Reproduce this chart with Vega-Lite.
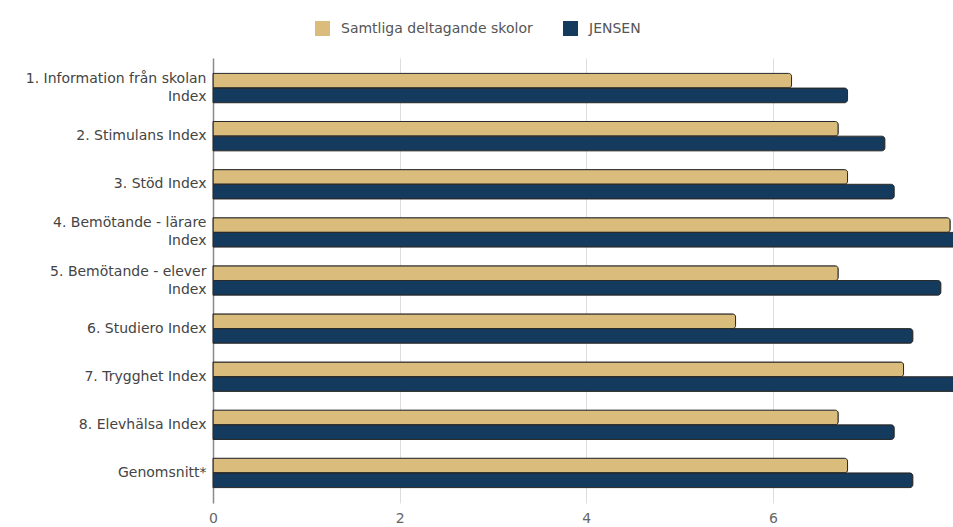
{
  "$schema": "https://vega.github.io/schema/vega-lite/v6.json",
  "autosize": "none",
  "width": 740,
  "height": 445,
  "padding": {"left": 213, "top": 58, "right": 0, "bottom": 24},
  "background": "white",
  "data": {
    "values": [
      {"kategori": "1. Information från skolan|Index", "serie": "Samtliga deltagande skolor", "varde": 6.2},
      {"kategori": "1. Information från skolan|Index", "serie": "JENSEN", "varde": 6.8},
      {"kategori": "2. Stimulans Index", "serie": "Samtliga deltagande skolor", "varde": 6.7},
      {"kategori": "2. Stimulans Index", "serie": "JENSEN", "varde": 7.2},
      {"kategori": "3. Stöd Index", "serie": "Samtliga deltagande skolor", "varde": 6.8},
      {"kategori": "3. Stöd Index", "serie": "JENSEN", "varde": 7.3},
      {"kategori": "4. Bemötande - lärare|Index", "serie": "Samtliga deltagande skolor", "varde": 7.9},
      {"kategori": "4. Bemötande - lärare|Index", "serie": "JENSEN", "varde": 8.0},
      {"kategori": "5. Bemötande - elever|Index", "serie": "Samtliga deltagande skolor", "varde": 6.7},
      {"kategori": "5. Bemötande - elever|Index", "serie": "JENSEN", "varde": 7.8},
      {"kategori": "6. Studiero Index", "serie": "Samtliga deltagande skolor", "varde": 5.6},
      {"kategori": "6. Studiero Index", "serie": "JENSEN", "varde": 7.5},
      {"kategori": "7. Trygghet Index", "serie": "Samtliga deltagande skolor", "varde": 7.4},
      {"kategori": "7. Trygghet Index", "serie": "JENSEN", "varde": 8.0},
      {"kategori": "8. Elevhälsa Index", "serie": "Samtliga deltagande skolor", "varde": 6.7},
      {"kategori": "8. Elevhälsa Index", "serie": "JENSEN", "varde": 7.3},
      {"kategori": "Genomsnitt*", "serie": "Samtliga deltagande skolor", "varde": 6.8},
      {"kategori": "Genomsnitt*", "serie": "JENSEN", "varde": 7.5}
    ]
  },
  "mark": {
    "type": "bar",
    "stroke": "#2a2a2a",
    "strokeWidth": 1,
    "cornerRadiusEnd": 3
  },
  "encoding": {
    "y": {
      "field": "kategori",
      "type": "nominal",
      "sort": null,
      "title": null,
      "scale": {"paddingInner": 0.39, "paddingOuter": 0.32},
      "axis": {
        "domain": true,
        "domainColor": "#8a8a8a",
        "domainWidth": 1.5,
        "ticks": false,
        "grid": false,
        "labelExpr": "split(datum.label, '|')",
        "labelOffset": {"condition": {"test": "indexof(datum.value, '|') >= 0", "value": -9}, "value": 0},
        "labelFont": "DejaVu Sans",
        "labelFontSize": 14,
        "labelColor": "#444444",
        "labelPadding": 7,
        "labelLineHeight": 18,
        "labelLimit": 220
      }
    },
    "yOffset": {
      "field": "serie",
      "type": "nominal",
      "sort": ["Samtliga deltagande skolor", "JENSEN"],
      "scale": {"paddingInner": 0, "paddingOuter": 0}
    },
    "x": {
      "field": "varde",
      "type": "quantitative",
      "title": null,
      "scale": {"domain": [0, 7.93], "nice": false, "zero": true},
      "axis": {
        "values": [0, 2, 4, 6],
        "domain": false,
        "ticks": false,
        "grid": true,
        "gridColor": "#dddddd",
        "gridWidth": 1,
        "labelFont": "DejaVu Sans",
        "labelFontSize": 14,
        "labelColor": "#666666",
        "labelPadding": 8,
        "labelFlush": false
      }
    },
    "color": {
      "field": "serie",
      "type": "nominal",
      "sort": ["Samtliga deltagande skolor", "JENSEN"],
      "scale": {"domain": ["Samtliga deltagande skolor", "JENSEN"], "range": ["#dabd7c", "#143a5e"]},
      "legend": {
        "title": null,
        "orient": "none",
        "direction": "horizontal",
        "legendX": 102,
        "legendY": -37,
        "symbolType": "square",
        "symbolSize": 225,
        "symbolStrokeWidth": 0,
        "labelFont": "DejaVu Sans",
        "labelFontSize": 14,
        "labelColor": "#555555",
        "labelOffset": 11,
        "labelLimit": 400,
        "columnPadding": 30
      }
    }
  },
  "config": {
    "view": {"stroke": null}
  }
}
